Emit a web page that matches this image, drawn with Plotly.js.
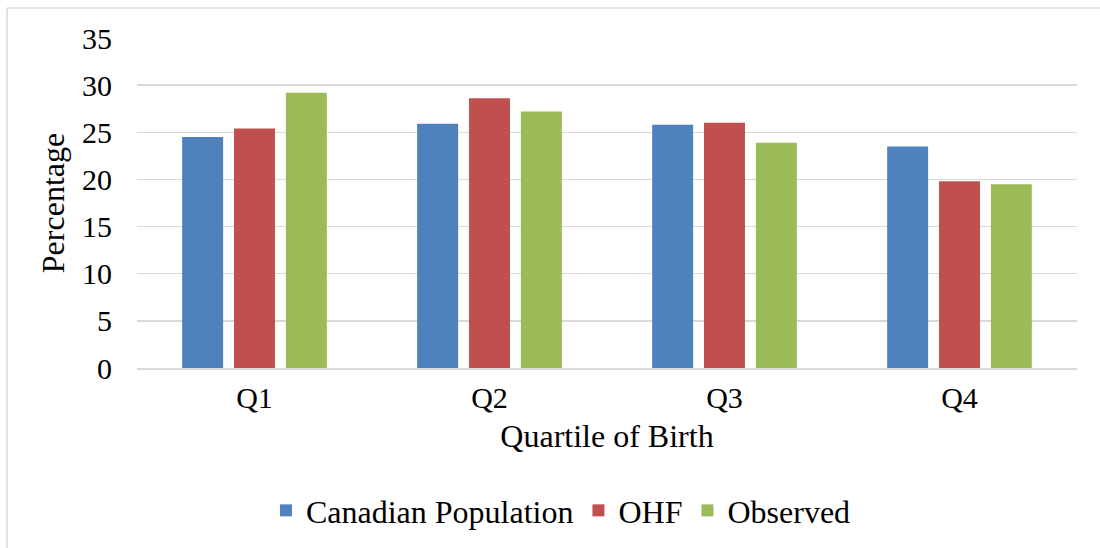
<!DOCTYPE html>
<html><head><meta charset="utf-8">
<script src="https://cdn.plot.ly/plotly-3.0.1.min.js"></script>
<style>html,body{margin:0;padding:0;background:#fff}#chart{width:1100px;height:548px}</style>
</head><body><div id="chart"></div>
<script>
const categories = ["Q1", "Q2", "Q3", "Q4"];
const canadianPopulation = [24.5, 25.9, 25.8, 23.5];
const ohf = [25.4, 28.6, 26.0, 19.8];
const observed = [29.2, 27.2, 23.9, 19.5];
const seriesNames = ["Canadian Population", "OHF", "Observed"];
const colors = ["#4f81bd", "#c0504d", "#9bbb59"];
const yTicks = [0, 5, 10, 15, 20, 25, 30, 35];

const fam = "Liberation Serif";
const tickFont = {family: fam, size: 30, color: "#000"};
const titleFont = {family: fam, size: 32, color: "#000"};
const traces = [canadianPopulation, ohf, observed].map((vals, i) => ({
  type: "bar", x: categories, y: vals, name: seriesNames[i],
  marker: {color: colors[i]}, hoverinfo: "none"
}));

const layout = {
  width: 1100, height: 548,
  margin: {l: 137, r: 23, t: 38, b: 180, autoexpand: false},
  paper_bgcolor: "#fff", plot_bgcolor: "#fff",
  font: titleFont,
  barmode: "group", bargap: 0.338, bargroupgap: 0.21,
  showlegend: true,
  legend: {orientation: "h", x: 0.451, xanchor: "center", y: -0.432, yanchor: "middle",
           font: titleFont, itemwidth: 30, tracegroupgap: 0},
  xaxis: {
    showgrid: false, showline: true, linecolor: "#d9d9d9", linewidth: 2,
    ticks: "", tickfont: tickFont, automargin: false, ticklabelstandoff: 2,
    title: {text: "Quartile of Birth", font: titleFont, standoff: 12}
  },
  yaxis: {
    range: [0, 35], tickvals: yTicks, showgrid: true, gridcolor: "#d9d9d9", gridwidth: 1.5,
    zeroline: false, showline: false, ticks: "", tickfont: tickFont, automargin: false,
    ticklabelstandoff: 24,
    title: {text: "Percentage", font: titleFont, standoff: 7}
  },
  shapes: [
    {type: "line", xref: "paper", yref: "paper", x0: -0.1383, x1: 1.1, y0: 1.0909, y1: 1.0909,
     line: {color: "#d9d9d9", width: 1.5}},
    {type: "line", xref: "paper", yref: "paper", x0: -0.1383, x1: -0.1383, y0: 1.0909, y1: -0.6,
     line: {color: "#d9d9d9", width: 1.5}}
  ]
};
Plotly.newPlot("chart", traces, layout, {staticPlot: true});
</script></body></html>
